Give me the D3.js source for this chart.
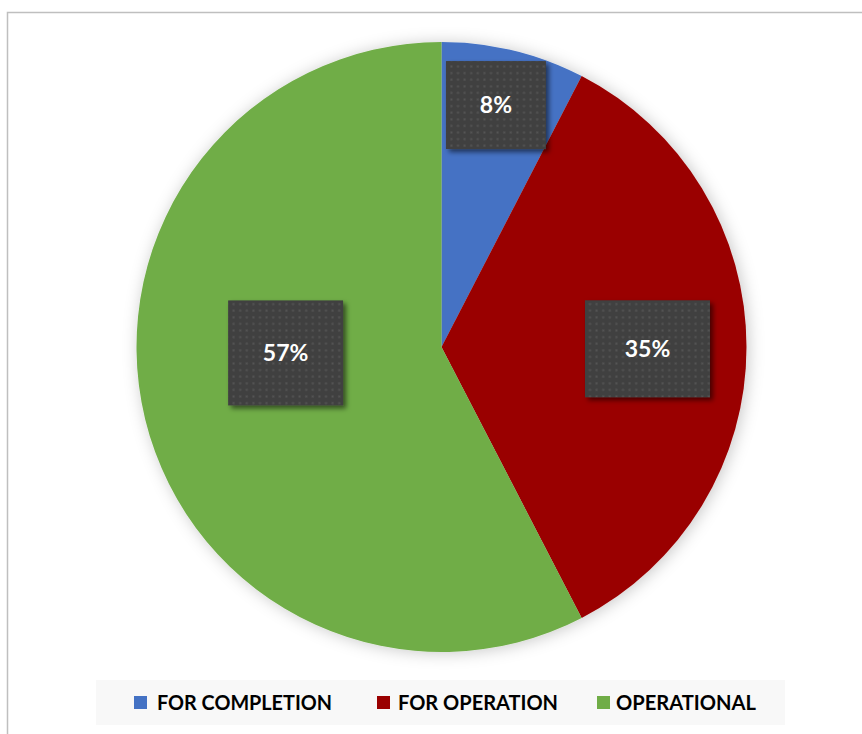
<!DOCTYPE html>
<html><head><meta charset="utf-8">
<script src="https://cdn.jsdelivr.net/npm/d3@7"></script>
<style>html,body{margin:0;padding:0;background:#fff;}svg{display:block;}</style>
</head><body>
<script>
// ---- data ----
const categories = ["FOR COMPLETION", "FOR OPERATION", "OPERATIONAL"];
const values = [7.6, 34.8, 57.6];
const labels = ["8%", "35%", "57%"];
const colors = ["#4472C4", "#9A0000", "#70AD47"];

// label box layout (angle offset in degrees, radial distance, box w, box h)
const labelLayout = [
  {da: -1, r: 248, w: 100, h: 88},
  {da: 0.5, r: 206, w: 125, h: 97},
  {da: 11.5, r: 156, w: 115, h: 105}
];

const W = 862, H = 734;
const cx = 441.5, cy = 347, R = 305;

const svg = d3.select("body").append("svg").attr("width", W).attr("height", H);
const defs = svg.append("defs");

const pieShadow = defs.append("filter").attr("id","pieShadow")
  .attr("x","-20%").attr("y","-20%").attr("width","140%").attr("height","140%");
pieShadow.append("feDropShadow").attr("dx",2).attr("dy",1).attr("stdDeviation",8)
  .attr("flood-color","#000").attr("flood-opacity",0.22);

const boxShadow = defs.append("filter").attr("id","boxShadow")
  .attr("x","-20%").attr("y","-20%").attr("width","150%").attr("height","150%");
boxShadow.append("feDropShadow").attr("dx",3).attr("dy",3).attr("stdDeviation",2.5)
  .attr("flood-color","#000").attr("flood-opacity",0.55);

const pat = defs.append("pattern").attr("id","dots").attr("patternUnits","userSpaceOnUse")
  .attr("width",6.6).attr("height",6.6);
pat.append("rect").attr("width",6.6).attr("height",6.6).attr("fill","#404040");
pat.append("rect").attr("x",2.3).attr("y",2.3).attr("width",2).attr("height",2).attr("fill","#555555");

// chart border
svg.append("rect").attr("x",7.5).attr("y",12.5).attr("width",W+20).attr("height",H+20)
  .attr("fill","#fff").attr("stroke","#bfbfbf").attr("stroke-width",1.5);

const pie = d3.pie().sort(null).value(d => d)(values);
const arc = d3.arc().innerRadius(0).outerRadius(R);

const g = svg.append("g").attr("transform",`translate(${cx},${cy})`);
g.append("g").attr("filter","url(#pieShadow)")
  .selectAll("path").data(pie).join("path")
  .attr("d", arc).attr("fill",(d,i)=>colors[i]);

// labels
const lg = g.append("g");
pie.forEach((d,i) => {
  const L = labelLayout[i];
  const a = (d.startAngle + d.endAngle)/2 + L.da*Math.PI/180;
  const x = Math.sin(a)*L.r, y = -Math.cos(a)*L.r;
  lg.append("rect").attr("x",x-L.w/2).attr("y",y-L.h/2).attr("width",L.w).attr("height",L.h)
    .attr("fill","url(#dots)").attr("filter","url(#boxShadow)");
  lg.append("text").attr("x",x).attr("y",y).attr("dy","0.36em").attr("text-anchor","middle")
    .attr("font-family","Lato, 'Open Sans', sans-serif").attr("font-weight","bold")
    .attr("font-size",23).attr("fill","#fff").text(labels[i]);
});

// legend
svg.append("rect").attr("x",96).attr("y",680).attr("width",689).attr("height",45).attr("fill","#f8f8f8");
const legendX = [134, 377, 597];
const legendTX = [157, 398, 616];
const legendW = [175, 160, 140];
const leg = svg.append("g");
categories.forEach((c,i) => {
  leg.append("rect").attr("x",legendX[i]).attr("y",696).attr("width",13).attr("height",13).attr("fill",colors[i]);
  leg.append("text").attr("x",legendTX[i]).attr("y",710)
    .attr("font-family","Lato, 'Open Sans', sans-serif").attr("font-weight","bold")
    .attr("font-size",21).attr("fill","#000")
    .attr("textLength",legendW[i]).attr("lengthAdjust","spacingAndGlyphs").text(c);
});
</script>
</body></html>
